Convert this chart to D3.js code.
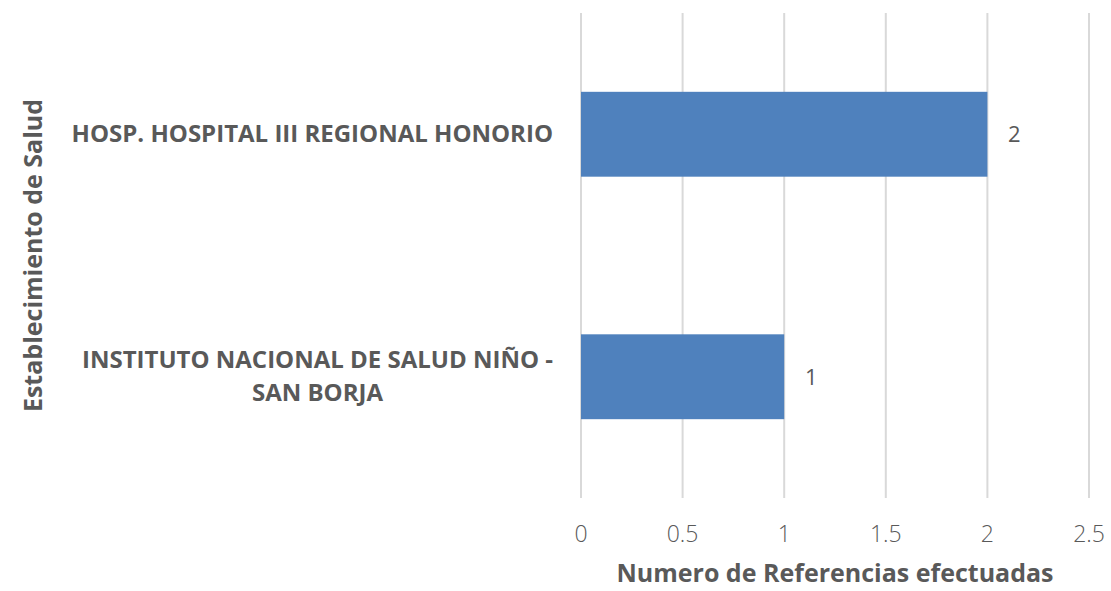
<!DOCTYPE html>
<html lang="en">
<head>
    <meta charset="UTF-8">
    <title>Referencias por establecimiento</title>
    <style>
        body { margin: 0; background: #fff; }
        text { font-family: "Open Sans", sans-serif; fill: #595959; }
        .bar { fill: #4f81bd; }
        .grid line { stroke: #d9d9d9; stroke-width: 2; }
    </style>
</head>
<body>
<svg width="1111" height="591"></svg>
<script src="https://cdn.jsdelivr.net/npm/d3@7"></script>
<script>
    // data
    var categories = [
        ["HOSP. HOSPITAL III REGIONAL HONORIO"],
        ["INSTITUTO NACIONAL DE SALUD NIÑO -", "SAN BORJA"]
    ];
    var values = [2, 1];
    var xTicks = [0, 0.5, 1, 1.5, 2, 2.5];
    var xTitle = "Numero de Referencias efectuadas";
    var yTitle = "Establecimiento de Salud";

    var svg = d3.select("svg"),
        plotLeft = 581, plotRight = 1089, plotTop = 13, plotBottom = 498;

    var keys = categories.map(function(d) { return d.join(" "); });

    var xScale = d3.scaleLinear().domain([0, 2.5]).range([plotLeft, plotRight]);
    var yScale = d3.scaleBand().domain(keys).range([plotTop, plotBottom])
        .paddingInner(0.65).paddingOuter(0.325);

    // vertical gridlines
    svg.append("g").attr("class", "grid")
        .selectAll("line")
        .data(xTicks)
        .enter().append("line")
        .attr("x1", function(d) { return xScale(d); })
        .attr("x2", function(d) { return xScale(d); })
        .attr("y1", plotTop)
        .attr("y2", plotBottom);

    // x tick labels
    svg.append("g")
        .selectAll("text")
        .data(xTicks)
        .enter().append("text")
        .attr("x", function(d) { return xScale(d); })
        .attr("y", 542)
        .attr("text-anchor", "middle")
        .style("font-size", "23px")
        .style("font-weight", "300")
        .text(function(d) { return d; });

    // bars
    svg.selectAll(".bar")
        .data(values)
        .enter().append("rect")
        .attr("class", "bar")
        .attr("x", xScale(0))
        .attr("y", function(d, i) { return yScale(keys[i]); })
        .attr("width", function(d) { return xScale(d) - xScale(0); })
        .attr("height", yScale.bandwidth());

    // value labels
    svg.selectAll(".val")
        .data(values)
        .enter().append("text")
        .attr("class", "val")
        .attr("x", function(d) { return xScale(d) + 27; })
        .attr("y", function(d, i) { return yScale(keys[i]) + yScale.bandwidth() / 2 + 8; })
        .attr("text-anchor", "middle")
        .style("font-size", "22px")
        .text(function(d) { return d; });

    // category labels, lines centred, block right-aligned at 553
    categories.forEach(function(lines, i) {
        var cy = yScale(keys[i]) + yScale.bandwidth() / 2;
        var g = svg.append("g");
        var lh = 33;
        var texts = lines.map(function(l, j) {
            return g.append("text")
                .attr("y", cy + 8 + (j - (lines.length - 1) / 2) * lh)
                .attr("text-anchor", "middle")
                .style("font-size", "24px")
                .style("font-weight", "bold")
                .text(l);
        });
        var w = d3.max(texts, function(t) { return t.node().getComputedTextLength(); });
        texts.forEach(function(t) { t.attr("x", 553 - w / 2); });
    });

    // axis titles
    svg.append("text")
        .attr("x", 835)
        .attr("y", 582)
        .attr("text-anchor", "middle")
        .style("font-size", "25px")
        .style("font-weight", "bold")
        .text(xTitle);

    svg.append("text")
        .attr("transform", "translate(42," + (plotTop + plotBottom) / 2 + ") rotate(-90)")
        .attr("text-anchor", "middle")
        .style("font-size", "25px")
        .style("font-weight", "bold")
        .text(yTitle);
</script>
</body>
</html>
